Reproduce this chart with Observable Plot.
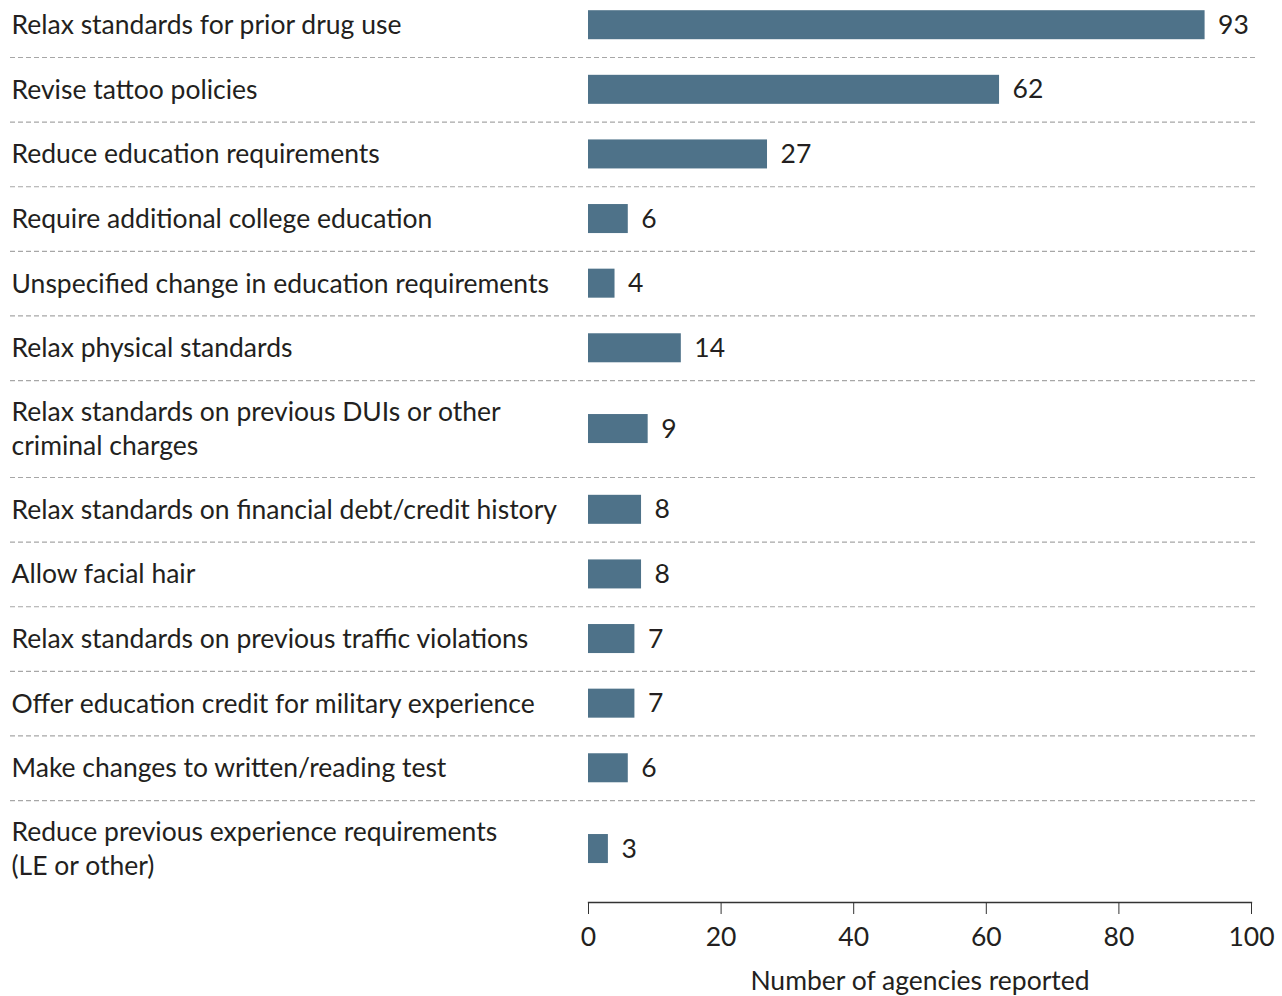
<!DOCTYPE html>
<html><head><meta charset="utf-8">
<script src="https://cdn.jsdelivr.net/npm/d3@7"></script>
<script src="https://cdn.jsdelivr.net/npm/@observablehq/plot@0.6"></script>
<style>html,body{margin:0;padding:0;background:#fff}svg{display:block}</style>
</head><body><div id="chart"></div>
<script>
const categories = [
  "Relax standards for prior drug use",
  "Revise tattoo policies",
  "Reduce education requirements",
  "Require additional college education",
  "Unspecified change in education requirements",
  "Relax physical standards",
  "Relax standards on previous DUIs or other\ncriminal charges",
  "Relax standards on financial debt/credit history",
  "Allow facial hair",
  "Relax standards on previous traffic violations",
  "Offer education credit for military experience",
  "Make changes to written/reading test",
  "Reduce previous experience requirements\n(LE or other)"
];
const values = [93, 62, 27, 6, 4, 14, 9, 8, 8, 7, 7, 6, 3];
const xTicks = [0, 20, 40, 60, 80, 100];
const axisTitle = "Number of agencies reported";

const FONT = "Lato";
const FS = 26.5;
const barColor = "#4e7289";
const textColor = "#231f20";

let acc = 0;
const rows = categories.map((label, i) => {
  const span = label.includes("\n") ? 1.5 : 1;
  const top = acc;
  acc += span;
  return {label, value: values[i], top, bottom: acc, mid: top + span / 2};
});
const total = acc;
const barHalf = 0.2245;

const chart = Plot.plot({
  width: 1282,
  height: 996,
  marginLeft: 588,
  marginRight: 31,
  marginTop: 0,
  marginBottom: 94,
  style: {fontFamily: FONT, fontSize: FS + "px", color: textColor, background: "#fff"},
  x: {domain: [0, 100], axis: null},
  y: {domain: [0, total], range: [-7.6, 897], axis: null},
  marks: [
    Plot.ruleY(rows.slice(0, -1), {y: "bottom", stroke: "#a7a7a7", strokeWidth: 1.2, strokeDasharray: "5,3", insetLeft: -578, insetRight: -7}),
    Plot.rect(rows, {x1: 0, x2: "value", y1: d => d.mid - barHalf, y2: d => d.mid + barHalf, fill: barColor}),
    Plot.text(rows, {text: "label", y: "mid", frameAnchor: "left", dx: -577, dy: -2, textAnchor: "start", lineAnchor: "middle", lineHeight: 34 / FS, fill: textColor, fontSize: FS}),
    Plot.text(rows, {text: d => String(d.value), x: "value", y: "mid", dx: 13, textAnchor: "start", lineAnchor: "middle", fill: textColor, fontSize: FS}),
    Plot.frame({anchor: "bottom", stroke: "#333", strokeWidth: 1.3}),
    Plot.axisX({ticks: xTicks, tickSize: 12, tickPadding: 13, fontSize: FS, stroke: "#333", fill: textColor, label: null}),
    Plot.text([axisTitle], {x: () => 50, frameAnchor: "bottom", dy: 79, lineAnchor: "middle", textAnchor: "middle", fill: textColor, fontSize: FS})
  ]
});
document.getElementById("chart").appendChild(chart);
</script>
</body></html>
